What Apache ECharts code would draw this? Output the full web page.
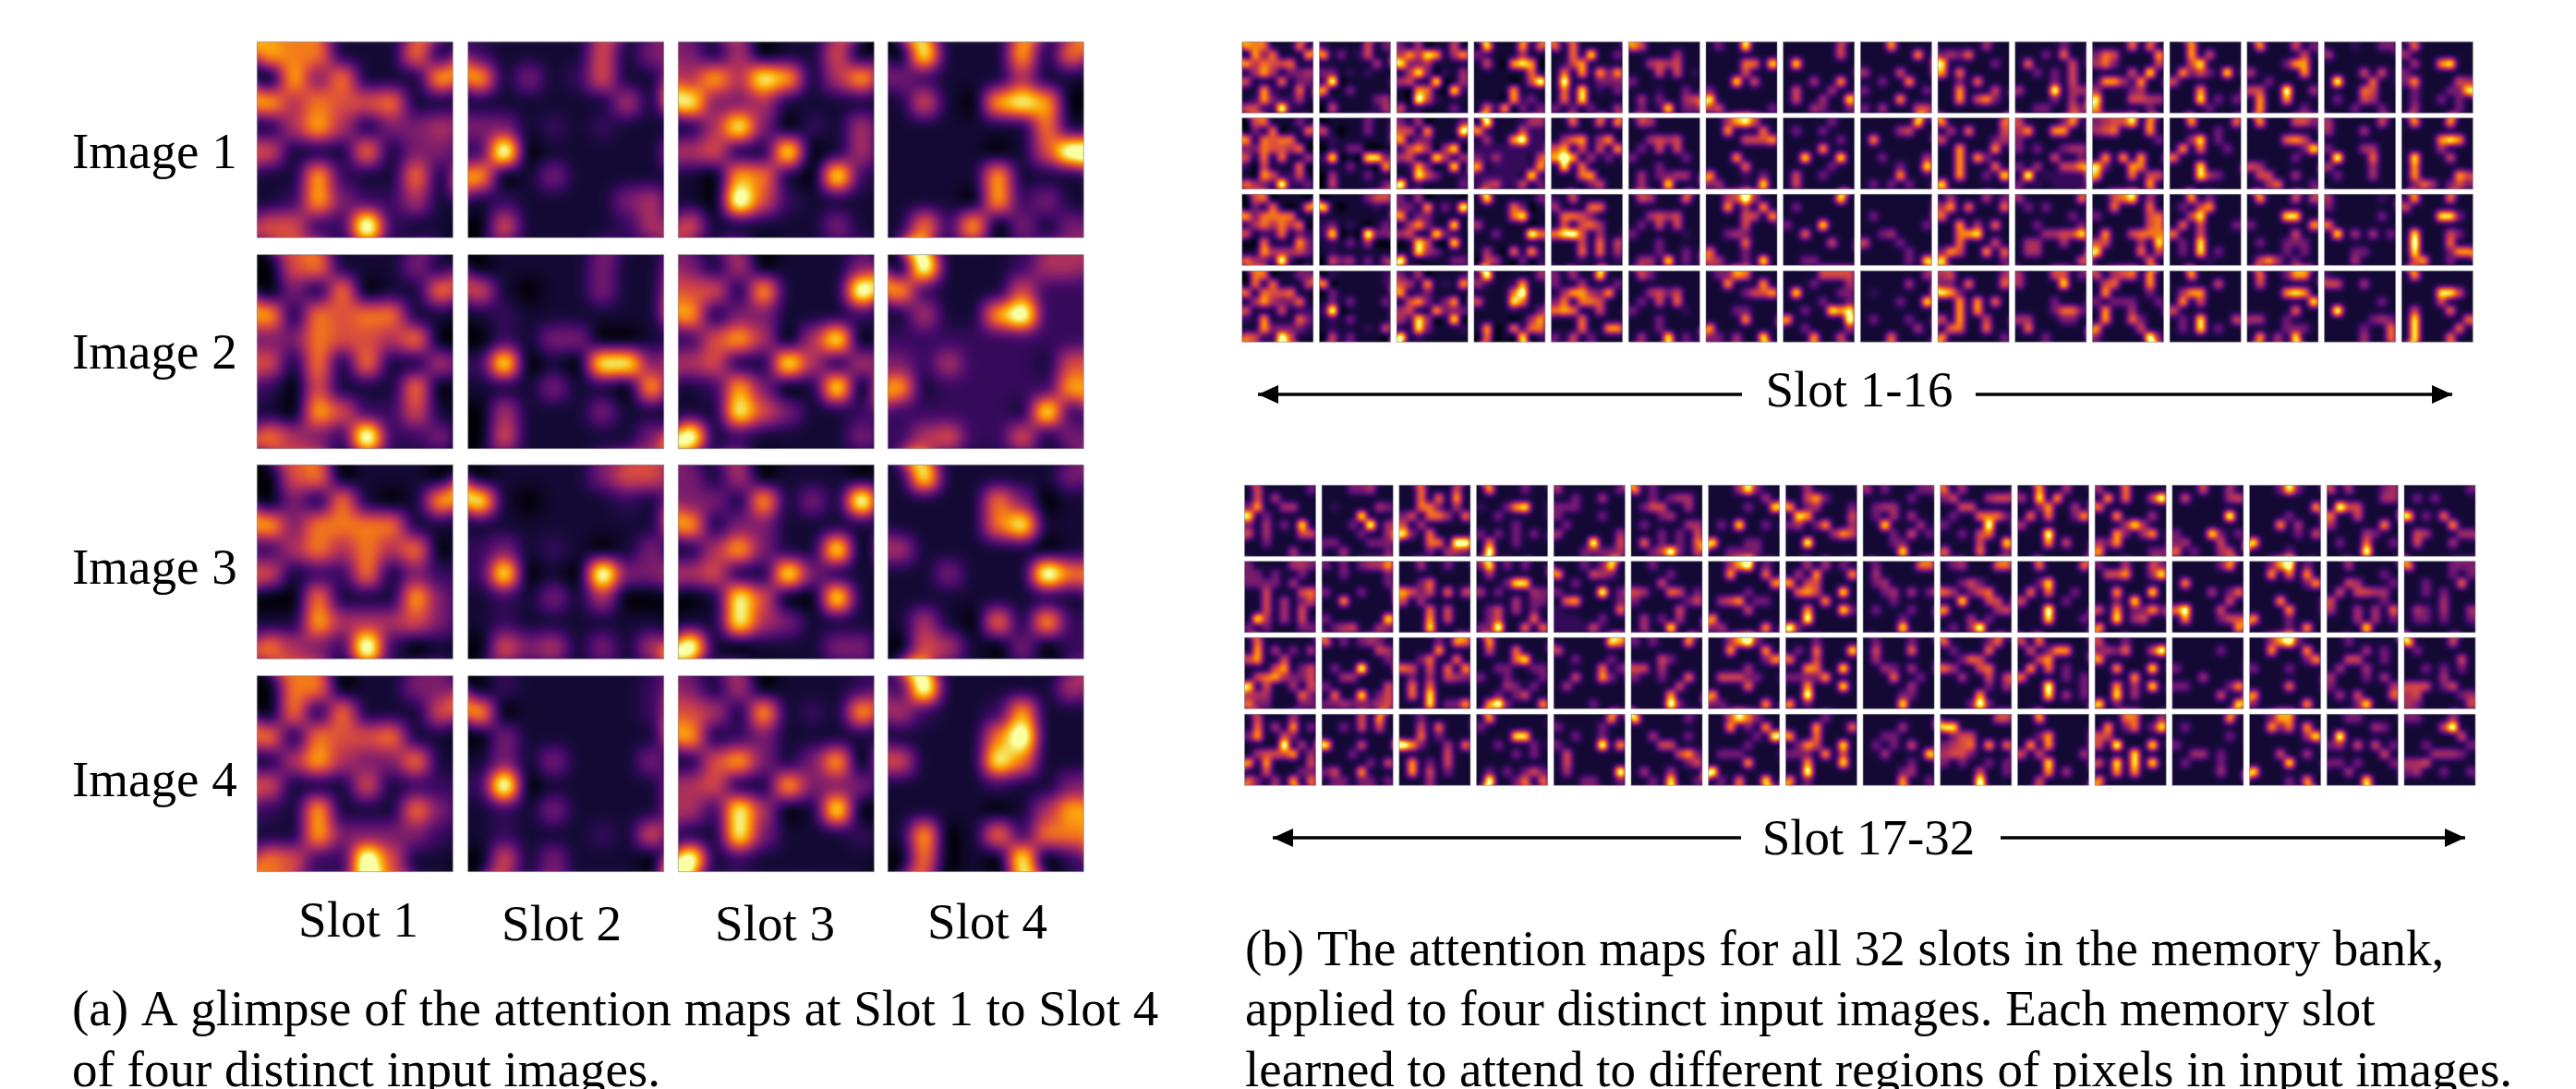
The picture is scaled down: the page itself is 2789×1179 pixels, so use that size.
<!DOCTYPE html>
<html><head><meta charset="utf-8">
<script src="https://cdn.jsdelivr.net/npm/echarts@6/dist/echarts.min.js"></script>
<style>
html,body{margin:0;padding:0;background:#fff;width:2789px;height:1179px;overflow:hidden}
.layer{position:absolute;left:0;top:0;width:2789px;height:1179px}
</style></head><body>
<svg width="0" height="0" style="position:absolute">
<filter id="fA" x="0" y="0" width="100%" height="100%" color-interpolation-filters="sRGB"><feGaussianBlur stdDeviation="9"/><feComponentTransfer><feFuncR class="r" type="table"/><feFuncG class="g" type="table"/><feFuncB class="b" type="table"/></feComponentTransfer></filter>
<filter id="fB" x="0" y="0" width="100%" height="100%" color-interpolation-filters="sRGB"><feGaussianBlur stdDeviation="3.3"/><feComponentTransfer><feFuncR class="r" type="table"/><feFuncG class="g" type="table"/><feFuncB class="b" type="table"/></feComponentTransfer></filter>
</svg>
<div id="heatA" class="layer"></div>
<div id="heatB" class="layer"></div>
<div id="overlay" class="layer"></div>
<script>
// Attention values, 0 (black) to 9 (brightest). Each slot lists Images 1-4; each image is 8 rows of 8.
const slot01=["76611161 07361117 74655611 14741334 51116133 11721161 12732241 55229211","05611131 03160116 71656611 33655460 51616114 20511160 10752251 64329223","05601110 03161017 73666611 24646460 51226132 00611173 11744453 64329201","06601133 06161115 61655611 14743361 51115122 21711163 11733332 65229511"];
const slot02=["21111513 71312511 11111141 33121211 29011111 70131111 12111134 05111124","01111311 51011311 12111111 02133001 28010883 11131107 04111311 05111113","01111355 81011121 11111111 23121013 28010933 12131400 12111111 05341314","02111112 70111112 03111111 13131113 29011111 12131111 12111215 05131110"];
const slot03=["31401150 47487147 83341111 14830214 45118014 10761082 10952111 51111131","31401113 55171119 71331112 25740480 45118414 12730180 11853112 91211113","31401110 33171319 71331111 14731180 45118311 01850081 11843111 91011133","31401112 54171217 71231111 15731370 45117333 42840180 11831112 91211111"];
const slot04=["08111716 32111411 15107870 11111161 11110159 11117111 11107231 16270313","09111244 72111522 14117922 22222222 32422215 71222227 22222182 24522513","18111113 11116301 11116811 41111101 11311196 11111111 14106172 05410302","29111114 42112711 11116911 51118611 11112113 11110147 17016266 06010802"];
const slot05=["61611111 11618113 12571111 16171737 19111333 16181213 16181111 31313114","11611617 11111111 14671471 57151517 79714131 18161111 11167111 11113511","21511111 41116611 16653111 15156411 68951411 11151615 11161614 11121212","31411811 31141113 14774371 36166511 67611511 11161111 11161177 31513111"];
const slot06=["75111111 11111411 11454511 11151512 31111111 11121131 14131145 13128133","15411111 11111111 11454511 13151511 31111131 11131111 14133441 14118111","15411161 11111111 11454511 13151511 31111121 11131111 11131131 14418131","15311111 11111111 11453511 13151611 31111121 11131111 11131111 14118131"];
const slot07=["13118111 11111111 11116618 11115111 11181511 31111111 81111111 45111113","11478511 11711161 11115557 11111111 11171111 11116111 71112131 34112181","11459411 11714171 11115517 11115111 11343111 11116111 61113111 54113181","13376111 11711171 11113557 11111111 11133111 11117111 71111111 33141181"];
const slot08=["11111151 11111151 18111111 11111111 11141171 15111411 15114118 11143113","11111311 13113111 11111131 11117111 11811181 11111311 15113111 15111111","11111181 13111111 11111111 31118111 11611111 11111511 11111111 11331111","11115555 11131114 18111133 11113113 11311878 71111119 11311114 11171151"];
const slot09=["11171111 11111171 11111111 41115111 11311711 31111113 11117111 31411155","11111181 11114511 17111111 11111111 11311114 11113118 11117112 13131311","11111111 11111111 13111111 11111113 11341111 51113111 11111311 11111318","11111114 11111411 12111111 11113118 11111111 13111311 11111141 11161111"];
const slot10=["11111411 34361111 81111131 71611111 11316111 11711151 11715731 11111111","71111116 14161115 51111134 11711171 11717311 11711161 11711318 81111111","14111413 47161116 61111111 11714161 11678111 11611151 37511716 81111113","45111114 33161116 87311111 11717161 11717111 51711511 16611611 71111113"];
const slot11=["11111311 11131611 16111151 11313151 11113151 41119144 11113141 11331153","51111371 47117711 31111111 31311344 11115113 31411557 19122222 31212222","41111116 13131111 11111131 11311113 11144558 14411411 14411111 11111115","41115513 41111811 11111111 11113111 11113663 44111331 16111111 11131111"];
const slot12=["11116161 36511117 46311115 11115181 27742711 41113411 81115544 71111131","34558171 45611171 11111113 11111111 17171711 83117611 71116155 11111171","11568141 11611161 31111156 11111156 17115666 55111418 81111615 11111161","51456171 15611171 17111131 31333113 17114111 17116311 71111511 31111193"];
const slot13=["11711111 11715111 11581111 17353181 51111111 11171111 11181313 11113111","11711116 11111311 11481311 17161131 61111111 11181111 11184311 11111111","11713111 13157111 11581111 16151113 61151111 13181111 13181311 11112111","11711111 11111511 14771111 17151111 51111111 13181115 13181311 11111111"];
const slot14=["17111513 11111151 11113771 41111171 11311111 55119114 17117111 17111131","17111553 11111111 11116751 11111138 11111311 54111111 15511411 11461113","17111515 11111111 11118811 31111117 11111511 13113331 11113131 15741311","16113771 15111111 11117871 11111118 11111611 44113111 11113331 17141811"];
const slot15=["11121133 41111111 11111111 11115151 19111611 11116511 13115411 11131131","41111151 41114111 11111111 31114411 19111611 41111411 13111411 11111111","41111121 31111111 11111131 61111111 18141413 11111111 11133111 11141111","21111111 55114111 11111111 11111131 19111111 11111343 11113116 11114116"];
const slot16=["16111111 41111111 14117811 31111111 37111154 13111338 13113131 14111131","17111711 11111111 11117871 11114111 18111511 17111111 17111175 13641353","17111611 51111111 11118831 11111111 18111531 19111611 18111377 15711311","17111111 11111111 11118851 11115111 15111611 18111116 18111161 18111611"];
const slot17=["15111113 15141111 37114411 81311111 31413181 51411155 11311111 11111411","31111443 33131131 33331411 11511156 11514135 11514151 18414151 31311133","16111111 17141314 57115111 11157135 15674335 81511415 44411163 63311133","15111411 16141713 37115311 11119141 14555714 71711115 11511133 63141716"];
const slot18=["11133411 11111111 12111143 11118111 11131914 11113114 33111333 11411113","31313447 11311113 11111113 31113111 11711111 11111111 31111118 13451143","61313431 11111154 11111113 13119111 11441111 31111115 16118135 33433345","11115171 11315151 11111111 81115111 11131111 11111315 35117111 13313313"];
const slot19=["11611151 11616171 11663141 35166416 51411111 83161111 11166199 11131443","11411311 11111111 11361111 75351615 51411111 11161511 11171511 11181111","11113176 11117111 11361161 65151617 13141543 16161111 16181111 11181337","11311111 11516111 11613111 97311416 11111511 17131511 17151311 11141111"];
const slot20=["17111311 11111111 21137811 11311111 11113111 31313131 16113111 19111111","38131311 14111111 11138811 41311143 11114133 13514131 13511161 33911616","17111111 15116111 11116811 11331133 31131113 11143131 11313511 17931117","17111111 31111111 11118811 11311131 11113131 11111111 13131353 19113616"];
const slot21=["41111113 11311411 33311111 31111311 13111111 41111114 11119115 11133334","11131381 71115431 11311111 31111913 16711113 21111116 22211311 22225211","11111187 51111111 11311131 11111613 11511731 14111111 11111111 11113111","11111171 31111311 11311311 31111917 15111111 15111111 14111119 11133113"];
const slot22=["71311111 11313441 13551141 11134111 13111144 11131315 16131316 11359315","11311111 11113111 11151111 54116513 31111135 11111511 14131411 14118111","31311171 11111111 11153111 55141111 31131161 11111511 11117111 11119311","81111131 11111111 11411131 11155111 11111573 11111135 14114111 11318113"];
const slot23=["11148311 11111141 11113118 11111111 13181131 11111111 81113311 11333311","11479131 11711161 11111117 11113111 14571331 11115111 71111111 34111171","11479311 11711171 11111137 11114111 15553311 11116111 71111111 33111171","11586311 11713171 11111319 11113111 13331111 11117111 91111111 13161181"];
const slot24=["11411111 11573111 71341113 18711115 34137114 11111475 11911111 11111111","11414131 14171117 71551111 16751181 11117111 11711183 11911111 93111111","11131111 13161118 61151111 11761181 33337111 11711181 11911111 71311111","11113111 11171116 71161111 13751181 33317151 11711181 11911111 71311111"];
const slot25=["41311133 11111311 13441111 13141411 11811141 11131513 11133111 11118111","13111166 14111111 13411111 11341413 11131111 13111311 11113111 11118111","13111311 15111611 14111111 11431411 11161131 11111411 11113311 11118111","11111111 11114111 11331111 13131511 11411118 11111311 11113411 11117113"];
const slot26=["61411111 35111455 11551111 13116663 31111911 11315611 11115118 61116113","13411166 11111111 11353111 64135611 11811551 71111145 11141311 13149111","61111361 13111611 11365111 64115611 11411515 11111314 11117111 11139311","11111155 88111111 13551111 34561716 45531111 31311313 11115113 11119111"];
const slot27=["11711411 41817111 11371141 16161137 41111111 11191111 11171511 11111111","11611116 11111111 11381111 16161131 51111311 11191111 11181113 11111111","51611111 15137711 11571111 17161311 61111313 11191113 11181413 11111111","11711111 11111111 11371111 17171111 51511114 11181111 11171411 11511111"];
const slot28=["41161111 17161159 61111111 11711141 11148411 11731471 43711111 71111133","31141153 15571148 11111111 11711181 11318111 51713373 11814511 71111111","51131111 34361159 71111111 11711181 11117111 11714181 11814111 81311111","11166114 17136138 55111111 51911181 11118111 51818181 11717111 71111111"];
const slot29=["11151141 15111145 11111111 11111191 11111111 31118313 34111511 61311451","11111371 11111111 17111111 11114136 11111151 69111511 17111355 11111117","11111111 11111311 11111111 31111111 11141111 33111137 11111511 11111118","11111171 13111111 11111131 31111111 11441311 13111311 11111411 11111111"];
const slot30=["11138311 11111111 11111117 11113111 11171411 11111315 81111111 11113111","11379131 11716171 11111137 11111111 11171111 11117111 71113111 11113171","11479311 11711171 11111137 31113111 11111111 11116111 71111111 31111171","11377111 11736171 11111148 11111111 11151141 11118111 81111111 11113171"];
const slot31=["51411134 11111144 19551111 61151111 41111171 11114311 13116113 11119111","11411111 11111131 11541113 15155441 51111131 41141416 11141413 11118111","11311111 11114131 11551131 14114111 41113141 31111114 14151116 11138111","11331111 11111431 19111111 34151513 11111151 33131113 11411111 11118111"];
const slot32=["11111113 13131111 11111111 81316111 11111711 15411144 15111411 11111111","71111333 11111313 11311161 11313111 11114111 14314114 13313113 11111111","81111511 13111111 11111151 11313131 11114111 55513511 45111134 43111115","33111411 11115911 11111151 11311113 11144431 44511111 34113113 11111111"];
const slots=[slot01,slot02,slot03,slot04,slot05,slot06,slot07,slot08,slot09,slot10,slot11,slot12,slot13,slot14,slot15,slot16,slot17,slot18,slot19,slot20,slot21,slot22,slot23,slot24,slot25,slot26,slot27,slot28,slot29,slot30,slot31,slot32];

const imageLabels=["Image 1","Image 2","Image 3","Image 4"];
const slotLabels=["Slot 1","Slot 2","Slot 3","Slot 4"];
const captionA=["(a) A glimpse of the attention maps at Slot 1 to Slot 4","of four distinct input images."];
const captionB=["(b) The attention maps for all 32 slots in the memory bank,","applied to four distinct input images. Each memory slot","learned to attend to different regions of pixels in input images."];
const cellIndex=[0,1,2,3,4,5,6,7];

// Layout
const aX=[278.3,506.7,734.3,961.3], aY=[45.3,275.7,503.3,731.7], aH=[212,210,210,212], aW=212;
const topY=[45.3,127.7,210.3,293.3], botY=[525.3,607.7,690.3,773.3];
const sW=77, sDX=83.7, topX0=1344.8, botX0=1347.5;
const FONT='"Liberation Serif","Times New Roman",serif';

// Inferno colour table for the value-to-colour step after the blur
const anchors=[[0,0,4],[22,11,57],[66,10,104],[106,23,110],[147,38,103],[188,55,84],[221,81,58],[243,120,25],[252,165,10],[246,215,70],[252,255,164]];
const GAIN=0.82, K=60;
const tab=[[],[],[]];
for(let i=0;i<=K;i++){const t=Math.min(1,i/K/GAIN)*10,a=Math.min(9,Math.floor(t)),f=t-a;
 for(let c=0;c<3;c++)tab[c].push(((anchors[a][c]*(1-f)+anchors[a+1][c]*f)/255).toFixed(3));}
document.querySelectorAll('feFuncR').forEach(e=>e.setAttribute('tableValues',tab[0].join(' ')));
document.querySelectorAll('feFuncG').forEach(e=>e.setAttribute('tableValues',tab[1].join(' ')));
document.querySelectorAll('feFuncB').forEach(e=>e.setAttribute('tableValues',tab[2].join(' ')));
// Grey level drawn for each value 0-9
const greyRamp=[0,.075,.14,.28,.38,.48,.58,.68,.86,1].map(v=>{const h=Math.round(v*255).toString(16).padStart(2,'0');return '#'+h+h+h;});

function cells(str){const rows=str.split(' '),out=[];
 rows.forEach((r,y)=>{for(let x=0;x<8;x++)out.push([x,y,Number(r[x]||1)]);});return out;}

function buildHeat(panels,ext){
 const grid=[],xAxis=[],yAxis=[],series=[];
 const add=(p,e)=>{const i=grid.length;
  grid.push({left:p.x-e,top:p.y-e,width:p.w+2*e,height:p.h+2*e});
  xAxis.push({type:'category',gridIndex:i,data:cellIndex,show:false});
  yAxis.push({type:'category',gridIndex:i,data:cellIndex,inverse:true,show:false});
  series.push({type:'heatmap',xAxisIndex:i,yAxisIndex:i,data:cells(p.v),silent:true,progressive:0,animation:false});};
 panels.forEach(p=>add(p,ext));   // bleed underlay so the blur keeps colour up to the panel edge
 panels.forEach(p=>add(p,0));
 return {animation:false,grid,xAxis,yAxis,series,
  visualMap:{show:false,min:0,max:9,inRange:{color:greyRamp},seriesIndex:series.map((_,i)=>i)}};
}
function clip(panels){return "path('"+panels.map(p=>`M${p.x} ${p.y}h${p.w}v${p.h}h${-p.w}z`).join('')+"')";}

const panelsA=[],panelsB=[];
aY.forEach((y,r)=>aX.forEach((x,c)=>panelsA.push({x,y,w:aW,h:aH[r],v:slots[c][r]})));
topY.forEach((y,r)=>{for(let c=0;c<16;c++)panelsB.push({x:topX0+sDX*c,y,w:sW,h:sW,v:slots[c][r]});});
botY.forEach((y,r)=>{for(let c=0;c<16;c++)panelsB.push({x:botX0+sDX*c,y,w:sW,h:sW,v:slots[16+c][r]});});

const elA=document.getElementById('heatA'),elB=document.getElementById('heatB');
echarts.init(elA,null,{renderer:'canvas'}).setOption(buildHeat(panelsA,15));
echarts.init(elB,null,{renderer:'canvas'}).setOption(buildHeat(panelsB,6));
elA.style.filter='url(#fA)';elA.style.clipPath=clip(panelsA);
elB.style.filter='url(#fB)';elB.style.clipPath=clip(panelsB);

// Text, arrows, panel outlines
const TS=55;
const g=[];
const txt=(s,x,y,size,align)=>g.push({type:'text',silent:true,z:5,style:{text:s,x,y,fill:'#000',font:size+'px '+FONT,textAlign:align||'left',textVerticalAlign:'middle'}});
const arrow=(x1,x2,y,dir)=>{
 g.push({type:'line',silent:true,z:5,shape:{x1,y1:y,x2,y2:y},style:{stroke:'#000',lineWidth:3.6}});
 const tip=dir>0?x2:x1,b=tip-dir*22;
 g.push({type:'polygon',silent:true,z:5,shape:{points:[[tip,y],[b,y-10],[b,y+10]]},style:{fill:'#000'}});};
panelsA.concat(panelsB).forEach(p=>g.push({type:'rect',silent:true,z:4,shape:{x:p.x,y:p.y,width:p.w,height:p.h},style:{fill:'none',stroke:'rgba(120,120,120,0.55)',lineWidth:1}}));
[168,385,618,848].forEach((y,i)=>txt(imageLabels[i],78,y,TS));
[[388,1000],[608,1004],[839,1004],[1069,1002]].forEach((p,i)=>txt(slotLabels[i],p[0],p[1],TS,'center'));
txt('Slot 1-16',2013,426,TS,'center');txt('Slot 17-32',2023,911,TS,'center');
arrow(1362,1886,427,-1);arrow(2139,2655,427,1);
arrow(1378,1885,907,-1);arrow(2166,2669,907,1);
txt(captionA[0],78,1096,TS);txt(captionA[1],78,1162,TS);
txt(captionB[0],1348,1031,TS);txt(captionB[1],1348,1096,TS);txt(captionB[2],1348,1162,TS);
echarts.init(document.getElementById('overlay'),null,{renderer:'canvas'}).setOption({animation:false,graphic:{elements:g}});
</script>
</body></html>
